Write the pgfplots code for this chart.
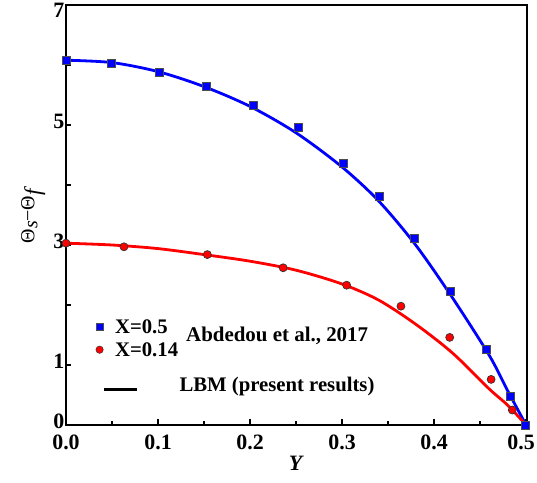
\documentclass[border=0pt]{standalone}
\usepackage{fontspec}
\setmainfont{Liberation Serif}
\usepackage{pgfplots}
\pgfplotsset{compat=1.18}
\pgfplotsset{
  ptlegend/.style={legend image code/.code={\draw[##1] plot coordinates {(0bp,0bp)};}},
  lnlegend/.style={legend image code/.code={\draw[##1, overlay] (4.3bp,-4bp) -- (37.6bp,-4bp);}},
}
\begin{document}
\begin{tikzpicture}
\useasboundingbox (-66bp,-58bp) rectangle (471bp,425bp);
\begin{axis}[
  scale only axis, width=461bp, height=420bp,
  xmin=0, xmax=0.501, ymin=0, ymax=7,
  axis line style={line width=2.6bp},
  tick style={line width=1.4bp, black},
  major tick length=5.5bp, minor tick length=4bp,
  tick align=inside, xtick pos=bottom, ytick pos=left,
  xtick={0,0.1,0.2,0.3,0.4},
  xticklabels={0.0,0.1,0.2,0.3,0.4},
  extra x ticks={0.5}, extra x tick labels={0.5},
  extra x tick style={xticklabel style={xshift=-5bp}},
  minor xtick={0.05,0.15,0.25,0.35,0.45},
  ytick={0,1,2,3,4,5,6},
  yticklabels={0,1,,3,,5,},
  extra y ticks={7}, extra y tick labels={7},
  extra y tick style={yticklabel style={yshift=-9bp}},
  ticklabel style={font=\bfseries\fontsize{22}{24}\selectfont},
  yticklabel style={inner xsep=1.5bp, yshift=4bp},
  xticklabel style={inner ysep=2bp, yshift=-8bp},
  xlabel={\textbf{\textit{Y}}},
  xlabel style={font=\fontsize{22}{24}\selectfont, yshift=-1bp},
  ylabel={Θ\raisebox{-3bp}{\textit{s}}−Θ\raisebox{-6bp}{\fontsize{23}{23}\selectfont\textit{f}}},
  ylabel style={font=\fontsize{20}{24}\selectfont, yshift=3bp},
  legend style={at={(axis cs:0.0325,1.76)}, anchor=north west, draw=none, fill=none,
    inner sep=0pt, outer sep=0pt, row sep=8.4bp,
    font=\bfseries\fontsize{20.8}{24}\selectfont,
    nodes={inner sep=0pt, text height=14bp, text depth=0.6bp},
    /tikz/every odd column/.append style={column sep=11.8bp}},
  legend cell align=left,
  clip=false,
]
% LBM lines
\addplot[blue, line width=2.8bp, smooth, forget plot] coordinates {
(0,6.08) (0.05,6.04) (0.1,5.89) (0.15,5.64) (0.2,5.31) (0.25,4.87) (0.3,4.30)
(0.34,3.73) (0.38,3.0) (0.42,2.12) (0.46,1.16) (0.48,0.57) (0.5,0)};
\addplot[red, line width=2.8bp, smooth, forget plot] coordinates {
(0,3.03) (0.05,3.0) (0.1,2.94) (0.15,2.84) (0.2,2.73) (0.25,2.58) (0.3,2.35)
(0.34,2.08) (0.38,1.68) (0.42,1.2) (0.46,0.6) (0.48,0.33) (0.5,0)};
% Abdedou et al. data
\addplot[only marks, mark=*, mark size=4bp, mark options={fill=red, draw=black!80, line width=0.7bp}, forget plot] coordinates {
(0,3.03) (0.063,2.97) (0.1536,2.84) (0.236,2.62) (0.305,2.33) (0.364,1.98)
(0.417,1.46) (0.462,0.76) (0.485,0.25)};
\addplot[only marks, mark=square*, mark size=4bp, mark options={fill=blue, draw=black!70, line width=0.7bp}, forget plot] coordinates {
(0,6.07) (0.0497,6.02) (0.101,5.87) (0.153,5.64) (0.204,5.32) (0.252,4.96)
(0.301,4.36) (0.340,3.81) (0.379,3.11) (0.418,2.22) (0.4565,1.26) (0.4826,0.47) (0.499,0.0)};
% legend
\addlegendimage{only marks, mark=square*, mark size=3.4bp, mark options={fill=blue, draw=black!70, line width=0.5bp}, ptlegend}
\addlegendentry{X=0.5}
\addlegendimage{only marks, mark=*, mark size=3.7bp, mark options={fill=red, draw=black!80, line width=0.5bp}, ptlegend}
\addlegendentry{X=0.14}
\addlegendimage{black, line width=2.7bp, lnlegend}
\addlegendentry[text height=26.5bp, text depth=13.1bp]{\hspace{64.4bp}LBM (present results)}
\node[anchor=base west, inner sep=0pt, font=\bfseries\fontsize{21}{24}\selectfont]
  at (axis cs:0.1304,1.388) {Abdedou et al., 2017};
\end{axis}
\end{tikzpicture}
\end{document}
